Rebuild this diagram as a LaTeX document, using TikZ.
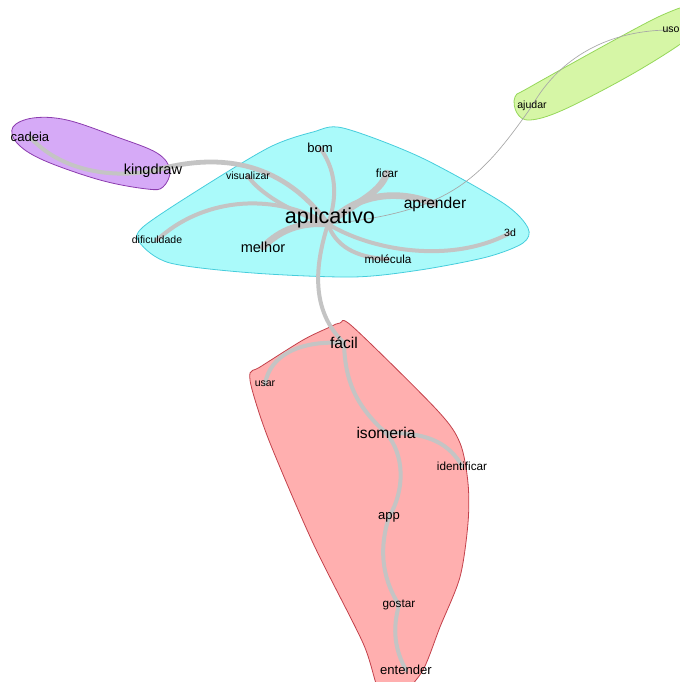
\documentclass[tikz,border=0pt]{standalone}
\usepackage{fontspec}
\setmainfont{Liberation Sans}
\usepackage{xcolor}
\usepackage{tikz}
\usetikzlibrary{calc}

\definecolor{edgegray}{RGB}{196,196,196}
\definecolor{cyanfill}{RGB}{170,250,250}
\definecolor{cyanline}{RGB}{70,205,220}
\definecolor{purplefill}{RGB}{214,170,247}
\definecolor{purpleline}{RGB}{140,60,175}
\definecolor{greenfill}{RGB}{214,246,166}
\definecolor{greenline}{RGB}{150,215,90}
\definecolor{redfill}{RGB}{255,175,175}
\definecolor{redline}{RGB}{195,65,75}

\pgfdeclarelayer{hulls}
\pgfdeclarelayer{edges}
\pgfsetlayers{hulls,edges,main}

\begin{document}
\begin{tikzpicture}[
    x=0.75pt, y=-0.75pt,
    word/.style={inner sep=0pt, text=black},
    huge/.style={word, font=\fontsize{16.2}{18}\selectfont},
    large/.style={word, font=\fontsize{11.7}{13}\selectfont},
    mid/.style={word, font=\fontsize{10.9}{12}\selectfont},
    norm/.style={word, font=\fontsize{9.8}{11}\selectfont},
    small/.style={word, font=\fontsize{8.8}{10}\selectfont},
    tiny/.style={word, font=\fontsize{7.9}{9}\selectfont},
    edge/.style={draw=edgegray, line width=3pt, line cap=round},
    thickedge/.style={edge, line width=5pt},
    thinedge/.style={draw=edgegray!85!black, line width=0.5pt},
    hull/.style={line width=0.6pt}
]
\useasboundingbox (0,0) rectangle (679,682);

% Words
\node[norm] (cadeia) at (30,137) {cadeia};
\node[mid] (kingdraw) at (153,171) {kingdraw};
\node[huge] (aplicativo) at (330,218) {aplicativo};
\coordinate (hub) at ([shift={(-2,6)}]aplicativo.center);
\node[norm] (bom) at (320,148) {bom};
\node[tiny] (visualizar) at (248,176) {visualizar};
\node[small] (ficar) at (387,173) {ficar};
\node[large] (aprender) at (435,204) {aprender};
\node[tiny] (dificuldade) at (157,240) {dificuldade};
\node[mid] (melhor) at (263,247) {melhor};
\node[small] (molecula) at (388,259) {molécula};
\node[tiny] (3d) at (510,233) {3d};
\node[tiny] (ajudar) at (532,106) {ajudar};
\node[tiny] (uso) at (671,30) {uso};
\node[large] (facil) at (344,343) {fácil};
\node[tiny] (usar) at (265,384) {usar};
\node[large] (isomeria) at (386,433) {isomeria};
\node[small] (identificar) at (462,466) {identificar};
\node[norm] (app) at (389,517) {app};
\node[small] (gostar) at (399,605) {gostar};
\node[norm] (entender) at (406,670) {entender};

% Groups
\begin{pgfonlayer}{hulls}
\draw[hull, draw=purpleline, fill=purplefill] plot[smooth cycle, tension=0.6] coordinates {
    (13,127) (33,118) (67,120) (117,137) (157,153) (170,170) (163,187)
    (147,189) (100,180) (43,160) (17,143)};
\draw[hull, draw=cyanline, fill=cyanfill] plot[smooth cycle, tension=0.5] coordinates {
    (343,128) (420,157) (503,203) (528,228) (523,243) (487,257) (420,270)
    (353,277) (253,273) (170,263) (140,243) (143,227) (203,187) (270,147) (313,132)};
\draw[hull, draw=greenline, fill=greenfill] plot[smooth cycle, tension=0.6] coordinates {
    (515,97) (530,87) (620,37) (667,13) (690,8) (695,30) (679,45)
    (627,77) (563,110) (530,120) (517,113)};
\draw[hull, draw=redline, fill=redfill] plot[smooth cycle, tension=0.5] coordinates {
    (340,323) (353,327) (437,410) (460,443) (468,483) (468,523) (460,577)
    (440,627) (423,670) (403,692) (380,692) (363,643) (313,543) (270,443)
    (253,393) (250,373) (260,367) (303,340) (330,327)};
\end{pgfonlayer}

% Links
\begin{pgfonlayer}{edges}
\draw[edge] (cadeia.center) .. controls (55,165) and (100,180) .. (kingdraw.center);
\draw[edge, line width=3.6pt] (kingdraw.center) .. controls (225,150) and (285,165) .. (hub);
\draw[edge] (visualizar.center) .. controls (258,192) and (290,212) .. (hub);
\draw[edge] (dificuldade.center) .. controls (200,200) and (270,190) .. (hub);
\draw[thickedge] (melhor.center) .. controls (280,230) and (300,222) .. (hub);
\draw[edge] (bom.center) .. controls (340,175) and (335,205) .. (hub);
\draw[thickedge] (ficar.center) .. controls (380,195) and (350,205) .. (hub);
\draw[thickedge] (aprender.center) .. controls (395,188) and (355,195) .. (hub);
\draw[thinedge] (hub) .. controls (450,212) and (480,180) .. (ajudar.center);
\draw[thinedge] (ajudar.center) .. controls (555,65) and (600,30) .. (uso.center);
\draw[edge] (hub) .. controls (370,250) and (450,265) .. (3d.center);
\draw[edge] (hub) .. controls (335,245) and (355,258) .. (molecula.center);
\draw[edge] (hub) .. controls (315,265) and (310,310) .. (facil.center);
\draw[edge] (facil.center) .. controls (300,340) and (270,355) .. (usar.center);
\draw[edge] (facil.center) .. controls (345,380) and (355,405) .. (isomeria.center);
\draw[edge] (isomeria.center) .. controls (430,432) and (450,445) .. (identificar.center);
\draw[edge] (isomeria.center) .. controls (405,455) and (405,490) .. (app.center);
\draw[edge] (app.center) .. controls (380,545) and (380,575) .. (gostar.center);
\draw[edge] (gostar.center) .. controls (392,630) and (395,650) .. (entender.center);
\end{pgfonlayer}

\end{tikzpicture}
\end{document}
